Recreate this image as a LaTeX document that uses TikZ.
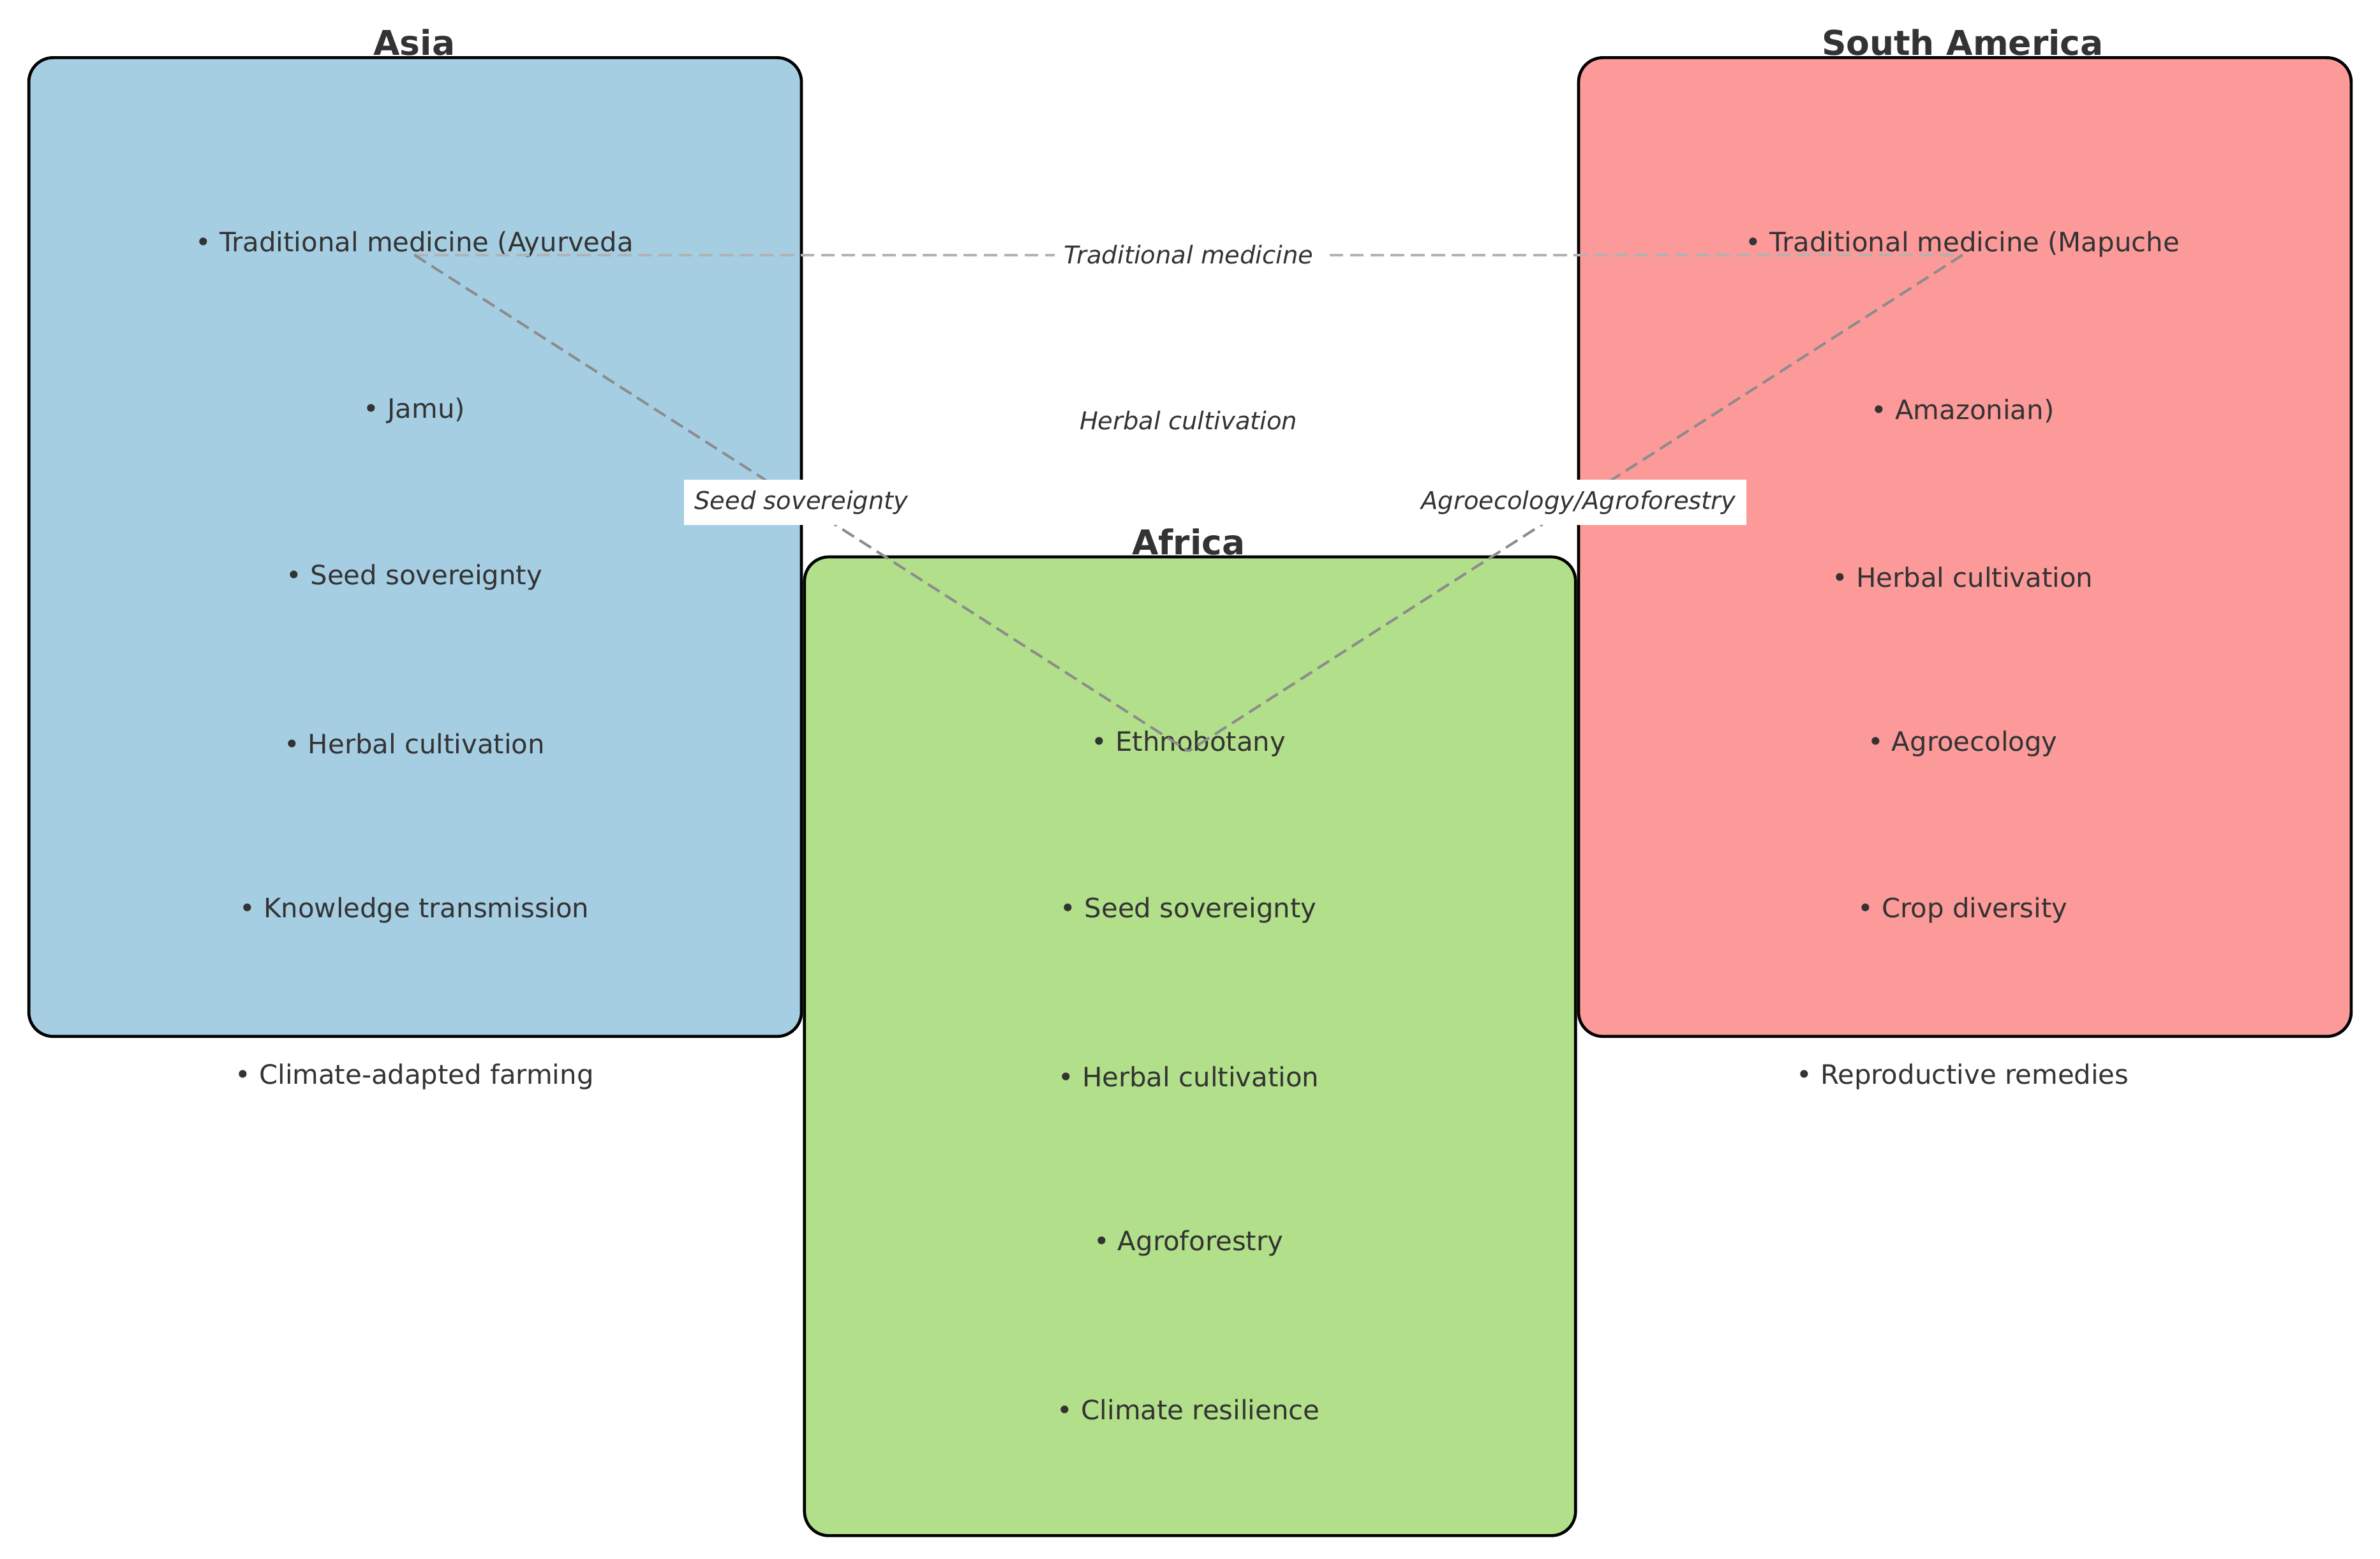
\documentclass[tikz,border=0pt]{standalone}
\usepackage{fontspec}
\setmainfont{DejaVu Sans}
\begin{document}
\begin{tikzpicture}[x=0.05cm,y=-0.05cm,
  box/.style={draw=black,line width=2.8pt,rounded corners=0.8cm},
  item/.style={text=black!80,font=\fontsize{25}{30}\selectfont},
  ttl/.style={text=black!80,font=\fontsize{32}{38}\selectfont\bfseries},
  lnk/.style={font=\fontsize{23}{28}\selectfont\itshape,text=black!80},
  lbox/.style={lnk,fill=white,inner sep=0.35cm},
  dl/.style={dashed,dash pattern=on 0.45cm off 0.22cm,line width=2.4pt}]
\useasboundingbox (0,0) rectangle (1568,1027);
\definecolor{asia}{HTML}{A6CEE3}
\definecolor{sam}{HTML}{FB9A99}
\definecolor{afr}{HTML}{B2DF8A}
\draw[box,fill=asia] (19,38) rectangle (528,683);
\draw[box,fill=sam] (1040,38) rectangle (1549,683);
\draw[box,fill=afr] (530,367) rectangle (1038,1012);
\node[ttl] (tA) at (273,28) {Asia};
\node[ttl] (tS) at (1293,28) {South America};
\node[ttl] (tF) at (783,357) {Africa};
\foreach \t [count=\i] in {Traditional medicine (Ayurveda, Jamu),Seed sovereignty,Herbal cultivation,Knowledge transmission,Climate-adapted farming}
  \node[item] (a\i) at (273,{161+109.7*(\i-1)}) {• \t};
\foreach \t [count=\i] in {Traditional medicine (Mapuche, Amazonian),Herbal cultivation,Agroecology,Crop diversity,Reproductive remedies}
  \node[item] (s\i) at (1293,{161+109.7*(\i-1)}) {• \t};
\foreach \t [count=\i] in {Ethnobotany,Seed sovereignty,Herbal cultivation,Agroforestry,Climate resilience}
  \node[item] (f\i) at (783,{490+109.7*(\i-1)}) {• \t};
\coordinate (pA) at (273,168);
\coordinate (pS) at (1293,168);
\coordinate (pF) at (783,495);
\draw[dl,black!30] (pA) -- node[lnk,fill=white,inner sep=0.3cm] (lt) {Traditional medicine} (pS);
\node[lnk] (lh) at (783,277) {Herbal cultivation};
\draw[dl,black!45] (pA) -- (pF);
\draw[dl,black!45] (pS) -- (pF);
\node[lbox] (ls) at (528,331) {Seed sovereignty};
\node[lbox] (lg) at (1040,331) {Agroecology/Agroforestry};
\end{tikzpicture}
\end{document}
